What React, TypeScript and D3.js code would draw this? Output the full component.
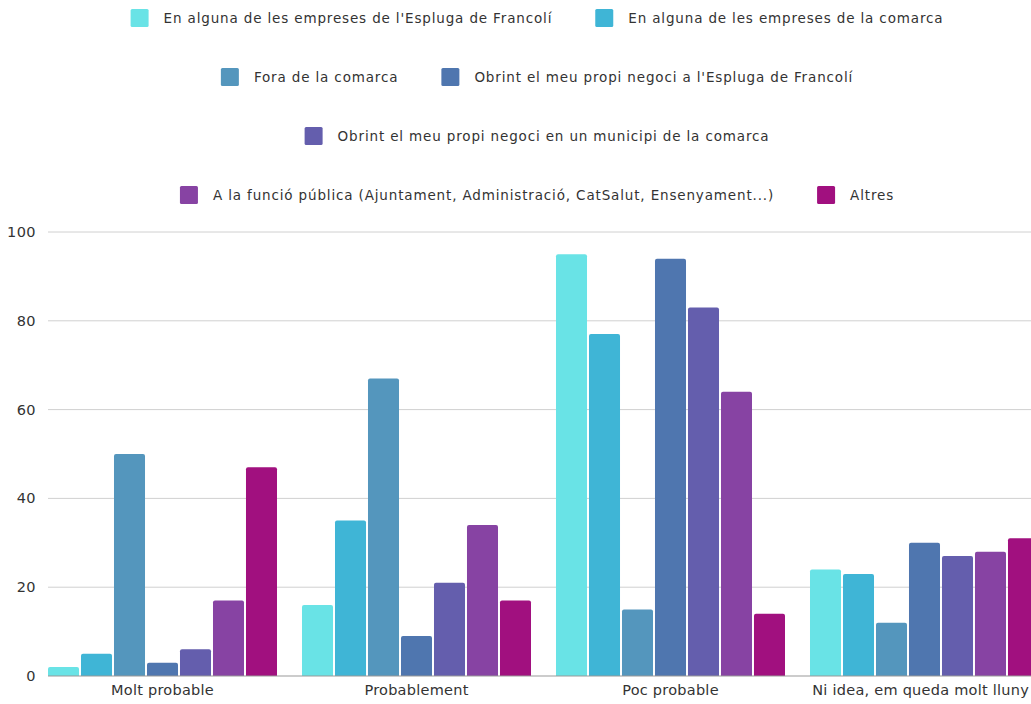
import React, { useEffect, useRef } from "react";
import * as d3 from "d3";

const categories = ["Molt probable", "Probablement", "Poc probable", "Ni idea, em queda molt lluny"];
const seriesNames = [
  "En alguna de les empreses de l'Espluga de Francolí",
  "En alguna de les empreses de la comarca",
  "Fora de la comarca",
  "Obrint el meu propi negoci a l'Espluga de Francolí",
  "Obrint el meu propi negoci en un municipi de la comarca",
  "A la funció pública (Ajuntament, Administració, CatSalut, Ensenyament...)",
  "Altres",
];
const seriesColors = ["#69e3e6", "#3fb5d6", "#5496bd", "#4f76af", "#645ead", "#8743a3", "#a1107f"];
const values: number[][] = [
  [2, 16, 95, 24],
  [5, 35, 77, 23],
  [50, 67, 15, 12],
  [3, 9, 94, 30],
  [6, 21, 83, 27],
  [17, 34, 64, 28],
  [47, 17, 14, 31],
];
const yTicks = [0, 20, 40, 60, 80, 100];
const legendRows = [[0, 1], [2, 3], [4], [5, 6]];

const W = 1031;
const H = 704;
const FONT = "'DejaVu Sans', sans-serif";

export default function App() {
  const ref = useRef<SVGSVGElement>(null);
  useEffect(() => {
    const svg = d3.select(ref.current);
    svg.selectAll("*").remove();

    const left = 48;
    const y = d3.scaleLinear().domain([0, 100]).range([676, 232]);
    const x0 = d3.scaleBand<string>().domain(categories).range([left, 1039]).paddingInner(0.0984).paddingOuter(0);
    const x1 = d3.scaleBand<number>().domain(d3.range(seriesNames.length)).range([0, x0.bandwidth()]).paddingInner(0.06);

    // grid
    svg.append("g").selectAll("line").data(yTicks.filter((t) => t > 0)).join("line")
      .attr("x1", left).attr("x2", W).attr("y1", (d) => y(d)).attr("y2", (d) => y(d))
      .attr("stroke", "#d0d0d0").attr("stroke-width", 1);

    // y labels
    svg.append("g").selectAll("text").data(yTicks).join("text")
      .attr("x", 36).attr("y", (d) => y(d)).attr("dy", "0.35em").attr("text-anchor", "end")
      .attr("font-family", FONT).attr("font-size", 14.5).attr("letter-spacing", 0.4).attr("fill", "#333")
      .text((d) => String(d));

    // bars
    const r = 2;
    seriesNames.forEach((_, si) => {
      svg.append("g").selectAll("path").data(categories).join("path")
        .attr("fill", seriesColors[si])
        .attr("d", (c, ci) => {
          const bx = (x0(c) as number) + (x1(si) as number);
          const bw = x1.bandwidth();
          const top = y(values[si][ci]);
          const bot = y(0);
          const rr = Math.min(r, (bot - top) / 2);
          return `M${bx},${bot}V${top + rr}Q${bx},${top} ${bx + rr},${top}H${bx + bw - rr}Q${bx + bw},${top} ${bx + bw},${top + rr}V${bot}Z`;
        });
    });

    // baseline
    svg.append("line").attr("x1", left).attr("x2", W).attr("y1", y(0)).attr("y2", y(0))
      .attr("stroke", "#999").attr("stroke-width", 1);

    // x labels (clamped so they stay inside the picture)
    const xl = svg.append("g").selectAll("text").data(categories).join("text")
      .attr("y", 690).attr("dy", "0.35em")
      .attr("text-anchor", "start").attr("font-family", FONT).attr("font-size", 14.5).attr("letter-spacing", 0.25).attr("fill", "#333")
      .text((c) => c);
    xl.each(function (c) {
      const el = this as SVGTextElement;
      const w = el.getComputedTextLength();
      const cx = (x0(c) as number) + x0.bandwidth() / 2;
      const x = Math.min(cx - w / 2, W - 2 - w);
      d3.select(el).attr("x", x);
    });

    // legend
    const rowY = [18, 77, 136, 195];
    const sq = 18, gapSqText = 15, gapItems = 43, fs = 13.5;
    const center = 537;
    legendRows.forEach((row, ri) => {
      const g = svg.append("g");
      const items = row.map((si) => {
        const t = g.append("text").attr("font-family", FONT).attr("font-size", fs).attr("letter-spacing", 0.85).attr("fill", "#333")
          .attr("dy", "0.35em").attr("y", rowY[ri]).text(seriesNames[si]);
        const w = (t.node() as SVGTextElement).getComputedTextLength();
        return { si, t, w };
      });
      const total = items.reduce((a, it) => a + sq + gapSqText + it.w, 0) + gapItems * (items.length - 1);
      let cx = center - total / 2;
      items.forEach((it) => {
        g.append("rect").attr("x", cx).attr("y", rowY[ri] - sq / 2).attr("width", sq).attr("height", sq)
          .attr("rx", 1.5).attr("fill", seriesColors[it.si]);
        it.t.attr("x", cx + sq + gapSqText);
        cx += sq + gapSqText + it.w + gapItems;
      });
    });
  }, []);
  return (
    <svg ref={ref} width={W} height={H} style={{ position: "absolute", left: 0, top: 0, display: "block", background: "#fff" }} />
  );
}
